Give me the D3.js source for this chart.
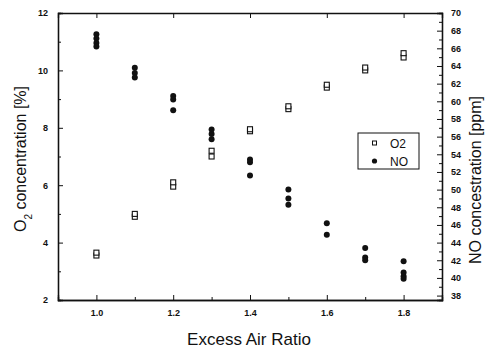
<!DOCTYPE html>
<html>
<head>
<meta charset="utf-8">
<script src="https://d3js.org/d3.v7.min.js"></script>
<style>
  body { margin: 0; background: #fff; }
  text { font-family: Arial, "Liberation Sans", sans-serif; fill: #111; }
  .tick text { font-size: 9px; font-weight: bold; }
</style>
</head>
<body>
<div id="chart"></div>
<script>
var ratios = [1.0, 1.1, 1.2, 1.3, 1.4, 1.5, 1.6, 1.7, 1.8];
// O2 [%], two readings per ratio
var o2Values = [
  [3.55, 3.65], [4.9, 5.0], [5.95, 6.1], [7.0, 7.2], [7.88, 7.95],
  [8.65, 8.75], [9.4, 9.5], [10.0, 10.1], [10.45, 10.6]
];
// NO [ppm], several readings per ratio
var noValues = [
  [67.6, 67.1, 66.6, 66.2], [63.8, 63.2, 62.7], [60.6, 60.2, 59.0],
  [56.8, 56.3, 55.7], [53.4, 53.1, 51.6], [50.0, 49.0, 48.3],
  [46.2, 44.9], [43.4, 42.3, 42.0], [41.9, 40.6, 40.2, 39.9]
];
var xTicks = [1.0, 1.2, 1.4, 1.6, 1.8];
var yLeftTicks = [2, 4, 6, 8, 10, 12];
var yRightTicks = d3.range(38, 71, 2);

var W = 485, H = 349;
var m = {left: 58, right: 43, top: 13, bottom: 49};
var iw = W - m.left - m.right, ih = H - m.top - m.bottom;

var svg = d3.select('#chart').append('svg').attr('width', W).attr('height', H);
var g = svg.append('g').attr('transform', 'translate(' + m.left + ',' + m.top + ')');

var x = d3.scaleLinear().domain([0.9, 1.9]).range([0, iw]);
var yL = d3.scaleLinear().domain([2, 12]).range([ih, 0]);
var yR = d3.scaleLinear().domain([37.5, 70]).range([ih, 0]);

function styleAxis(sel) {
  sel.select('.domain').attr('stroke', '#111').attr('stroke-width', 1.3);
  sel.selectAll('.tick line').attr('stroke', '#111');
}

// minor ticks first
g.append('g').attr('transform', 'translate(0,' + ih + ')')
  .call(d3.axisBottom(x).tickValues(d3.range(1.1, 1.85, 0.2)).tickSize(-3).tickFormat(''))
  .call(styleAxis);
g.append('g')
  .call(d3.axisLeft(yL).tickValues([3, 5, 7, 9, 11]).tickSize(-3).tickFormat(''))
  .call(styleAxis);
g.append('g').attr('transform', 'translate(' + iw + ',0)')
  .call(d3.axisRight(yR).tickValues(d3.range(39, 70, 2)).tickSize(-3).tickFormat(''))
  .call(styleAxis);

// major axes
g.append('g').attr('transform', 'translate(0,' + ih + ')')
  .call(d3.axisBottom(x).tickValues(xTicks).tickSize(-5).tickPadding(10).tickFormat(d3.format('.1f')))
  .call(styleAxis);
g.append('g')
  .call(d3.axisTop(x).tickValues(xTicks).tickSize(-5).tickFormat(''))
  .call(styleAxis);
g.append('g')
  .call(d3.axisLeft(yL).tickValues(yLeftTicks).tickSize(-5).tickPadding(10))
  .call(styleAxis);
g.append('g').attr('transform', 'translate(' + iw + ',0)')
  .call(d3.axisRight(yR).tickValues(yRightTicks).tickSize(-5).tickPadding(9))
  .call(styleAxis);

// O2 squares
var o2Pts = [];
ratios.forEach(function(r, i) { o2Values[i].forEach(function(v) { o2Pts.push([r, v]); }); });
g.selectAll('.o2').data(o2Pts).enter().append('rect')
  .attr('x', function(d) { return x(d[0]) - 2.5; })
  .attr('y', function(d) { return yL(d[1]) - 2.5; })
  .attr('width', 5).attr('height', 5)
  .attr('fill', '#fff').attr('stroke', '#111').attr('stroke-width', 1.1);

// NO circles
var noPts = [];
ratios.forEach(function(r, i) { noValues[i].forEach(function(v) { noPts.push([r, v]); }); });
g.selectAll('.no').data(noPts).enter().append('circle')
  .attr('cx', function(d) { return x(d[0]); })
  .attr('cy', function(d) { return yR(d[1]); })
  .attr('r', 3).attr('fill', '#111');

// legend
var lg = svg.append('g').attr('transform', 'translate(358,133)');
lg.append('rect').attr('width', 61).attr('height', 36)
  .attr('fill', '#fff').attr('stroke', '#111').attr('stroke-width', 1);
lg.append('rect').attr('x', 14.5).attr('y', 8).attr('width', 4).attr('height', 4)
  .attr('fill', '#fff').attr('stroke', '#111');
lg.append('circle').attr('cx', 16.5).attr('cy', 28).attr('r', 2.6).attr('fill', '#111');
lg.append('text').attr('x', 32).attr('y', 15).style('font-size', '12px').text('O2');
lg.append('text').attr('x', 32).attr('y', 33).style('font-size', '12px').text('NO');

// axis titles
svg.append('text').attr('x', 249).attr('y', 345).attr('text-anchor', 'middle')
  .style('font-size', '17px').text('Excess Air Ratio');
var lt = svg.append('text').attr('transform', 'translate(26,159) rotate(-90)')
  .attr('text-anchor', 'middle').style('font-size', '16px');
lt.append('tspan').text('O');
lt.append('tspan').attr('baseline-shift', 'sub').style('font-size', '10px').text('2');
lt.append('tspan').text(' concentration [%]');
svg.append('text').attr('transform', 'translate(481,180) rotate(-90)')
  .attr('text-anchor', 'middle').style('font-size', '16px').text('NO concestration [ppm]');
</script>
</body>
</html>
